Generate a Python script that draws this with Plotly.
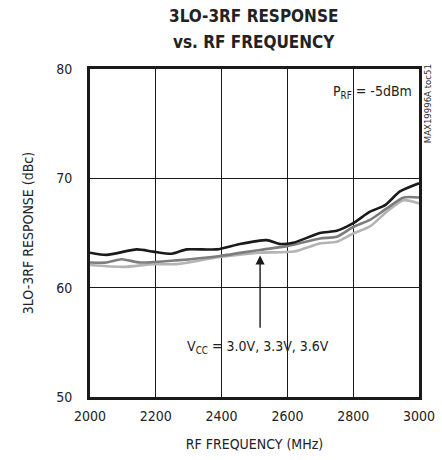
import plotly.graph_objects as go

# 3LO-3RF response vs RF frequency, one curve per supply voltage
freq_30 = [2000, 2051, 2142, 2192, 2248, 2294, 2385, 2456, 2537, 2578, 2617, 2699, 2750, 2800, 2851, 2897, 2942, 3000]
resp_30 = [63.2, 63.0, 63.5, 63.3, 63.1, 63.5, 63.5, 64.0, 64.35, 64.0, 64.1, 65.0, 65.2, 65.9, 66.95, 67.55, 68.8, 69.55]

freq_33 = [2000, 2050, 2096, 2152, 2263, 2395, 2517, 2598, 2699, 2750, 2800, 2851, 2902, 2953, 3000]
resp_33 = [62.3, 62.3, 62.6, 62.3, 62.5, 62.9, 63.45, 63.8, 64.5, 64.65, 65.55, 66.2, 67.25, 68.25, 68.25]

freq_36 = [2000, 2101, 2192, 2263, 2395, 2517, 2620, 2699, 2750, 2800, 2851, 2902, 2953, 3000]
resp_36 = [62.07, 61.9, 62.15, 62.15, 62.8, 63.2, 63.3, 64.05, 64.2, 64.95, 65.6, 66.95, 68.0, 67.7]

x_ticks = [2000, 2200, 2400, 2600, 2800, 3000]
y_ticks = [50, 60, 70, 80]

FONT = "DejaVu Sans Condensed, Liberation Sans Narrow, sans-serif"

fig = go.Figure()
for fx, ry, color in [
    (freq_36, resp_36, "#b4b4b4"),
    (freq_33, resp_33, "#7d7d7d"),
    (freq_30, resp_30, "#1a1a1a"),
]:
    fig.add_trace(
        go.Scatter(
            x=fx,
            y=ry,
            mode="lines",
            line=dict(color=color, width=2.6, shape="spline", smoothing=0.6),
            showlegend=False,
        )
    )

# two-line bold title above the plot
for text, ty in [("3LO-3RF RESPONSE", 1.162), ("vs. RF FREQUENCY", 1.083)]:
    fig.add_annotation(
        x=0.497, y=ty, xref="paper", yref="paper", showarrow=False,
        xanchor="center", yanchor="middle",
        text=f"<b>{text}</b>", font=dict(family=FONT, size=17, color="#222"),
    )

# arrow pointing at the curves
fig.add_annotation(
    x=2517, y=62.95, ax=2517, ay=56.2, xref="x", yref="y", axref="x", ayref="y",
    text="", showarrow=True, arrowhead=2, arrowsize=1.3, arrowwidth=1.4, arrowcolor="#1a1a1a",
)
fig.add_annotation(
    x=2511, y=54.6, xref="x", yref="y", showarrow=False,
    xanchor="center", yanchor="middle",
    text="V<sub>CC</sub> = 3.0V, 3.3V, 3.6V",
    font=dict(family=FONT, size=14, color="#222"),
)
fig.add_annotation(
    x=2985, y=77.9, xref="x", yref="y", showarrow=False,
    xanchor="right", yanchor="middle",
    text="P<sub>RF</sub> = -5dBm",
    font=dict(family=FONT, size=14, color="#222"),
)
fig.add_annotation(
    x=1.028, y=1.02, xref="paper", yref="paper", showarrow=False, textangle=-90,
    xanchor="center", yanchor="top",
    text="MAX19996A toc51",
    font=dict(family=FONT, size=9.5, color="#333"),
)

axis_common = dict(
    showgrid=True, gridcolor="#1a1a1a", gridwidth=1,
    showline=True, linecolor="#1a1a1a", linewidth=3, mirror=True,
    ticks="", zeroline=False, automargin=False,
    tickfont=dict(family=FONT, size=14, color="#222"),
    title_font=dict(family=FONT, size=14, color="#222"),
)

fig.update_xaxes(
    range=[2000, 3000], tickvals=x_ticks, title_text="RF FREQUENCY (MHz)",
    title_standoff=17, ticklabelstandoff=4, **axis_common,
)
fig.update_yaxes(
    range=[50, 80], tickvals=y_ticks, title_text="3LO-3RF RESPONSE (dBc)",
    title_standoff=20, ticklabelstandoff=12, **axis_common,
)

fig.update_layout(
    width=442, height=460,
    margin=dict(l=90, r=23, t=69, b=63, autoexpand=False),
    plot_bgcolor="white", paper_bgcolor="white",
)

# the page body has a default 8px margin; drop it so the figure fills the window
fig.write_html(
    "out.html",
    config={"displayModeBar": False},
    post_script="document.body.style.margin='0';",
)
